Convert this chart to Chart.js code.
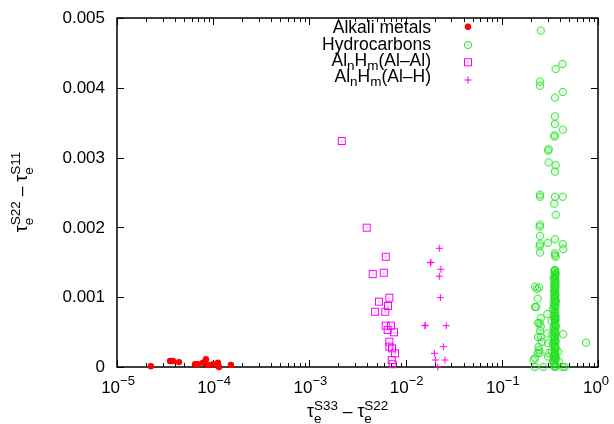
<!DOCTYPE html>
<html>
<head>
<meta charset="utf-8">
<script src="https://cdn.jsdelivr.net/npm/chart.js@4.4.1/dist/chart.umd.min.js"></script>
<style>
  body { margin: 0; background: #fff; }
  canvas { display: block; }
</style>
</head>
<body>
<canvas id="scatterChart" width="614" height="424"></canvas>
<script>
// Data
const alkaliX = [2.25e-5, 3.56e-5, 3.82e-5, 4.41e-5, 6.47e-5, 6.95e-5, 7.83e-5, 8.41e-5, 8.83e-5, 9.95e-5, 1.12e-4, 1.15e-4, 1.53e-4];
const alkaliY = [0.00001, 0.000086, 0.000086, 0.00007, 0.00004, 0.00004, 0.00006, 0.00011, 0.00003, 0.00004, 0.00006, 0.0, 0.00003];

const hydroX = [
  0.254, 0.426, 0.363, 0.25, 0.25, 0.43, 0.357, 0.357, 0.357, 0.43, 0.353, 0.353, 0.307, 0.303, 0.307, 0.363, 0.357,
  0.25, 0.25, 0.357, 0.43, 0.35, 0.363, 0.25, 0.247, 0.25, 0.357, 0.25, 0.247, 0.30, 0.43, 0.435, 0.25, 0.357, 0.357, 0.363,
  0.221, 0.244, 0.236, 0.228, 0.221, 0.254, 0.247, 0.238, 0.254, 0.238, 0.254, 0.26, 0.244, 0.236, 0.247, 0.221, 0.213,
  0.221, 0.27, 0.435, 0.75, 0.297, 0.297, 0.303, 0.307, 0.303, 0.384, 0.39, 0.357, 0.43, 0.45, 0.232, 0.25, 0.24,
  0.357, 0.352, 0.36, 0.357, 0.345, 0.36, 0.355, 0.35, 0.362, 0.357, 0.348, 0.36, 0.352, 0.357, 0.365, 0.345, 0.355,
  0.36, 0.34, 0.357, 0.35, 0.362, 0.355, 0.33, 0.357, 0.365, 0.345, 0.352, 0.36, 0.335, 0.357, 0.35, 0.362, 0.34,
  0.355, 0.36, 0.33, 0.357, 0.35, 0.365, 0.34, 0.355,
  0.355, 0.36, 0.352, 0.357, 0.362, 0.35, 0.357, 0.355, 0.36, 0.352, 0.357, 0.362, 0.35, 0.355, 0.36, 0.357,
  0.352, 0.362, 0.355, 0.357, 0.35, 0.36, 0.355, 0.362, 0.352, 0.357, 0.36, 0.35, 0.355, 0.362, 0.357, 0.352,
  0.36, 0.355, 0.357, 0.35, 0.362, 0.355, 0.345, 0.36, 0.352, 0.357
];
const hydroY = [
  0.00482, 0.00434, 0.00427, 0.00409, 0.00403, 0.00394, 0.00386, 0.00359, 0.00348, 0.0034, 0.00332, 0.0033, 0.00312, 0.0031, 0.00293, 0.00289, 0.0028,
  0.00247, 0.00244, 0.00244, 0.00244, 0.00234, 0.00218, 0.00204, 0.00201, 0.00188, 0.00183, 0.00176, 0.00173, 0.00178, 0.00176, 0.00169, 0.00164, 0.00163, 0.0016, 0.00158,
  0.00115, 0.00114, 0.00098, 0.00086, 0.00086, 0.0007, 0.00063, 0.00063, 0.00058, 0.00043, 0.00043, 0.00036, 0.00024, 0.0002, 0.0002, 0.000125, 0.0001,
  0.0, 0.0, 0.00047, 0.00035, 0.00076, 0.00048, 0.00034, 0.0002, 0.00015, 0.00022, 0.00008, 0.0, 0.0, 0.0, 0.00112, 0.00052, 0.00029,
  0.00139, 0.00137, 0.00133, 0.00131, 0.00127, 0.00124, 0.00122, 0.00118, 0.00115, 0.00111, 0.00109, 0.00105, 0.00102, 0.00099, 0.00095, 0.00092, 0.00088,
  0.00085, 0.00083, 0.00079, 0.00075, 0.00072, 0.00069, 0.00066, 0.00062, 0.00059, 0.00056, 0.00052, 0.00049, 0.00046, 0.00043, 0.00039, 0.00036, 0.00033,
  0.00029, 0.00026, 0.00022, 0.00019, 0.00015, 0.00012, 0.00008, 0.00004,
  0.00138, 0.00135, 0.00129, 0.00126, 0.0012, 0.00116, 0.00113, 0.00107, 0.00103, 0.00097, 0.00094, 0.0009, 0.00087, 0.00081, 0.00077, 0.00073,
  0.0007, 0.00067, 0.00064, 0.0006, 0.00057, 0.00054, 0.0005, 0.00047, 0.00044, 0.00041, 0.00038, 0.00035, 0.00031, 0.00028, 0.00024, 0.00021,
  0.00017, 0.00014, 0.0001, 0.00006, 0.00002, 0.0, 0.00011, 0.00132, 0.00101, 0.00068
];

const alAlX = [2.17e-3, 3.94e-3, 6.21e-3, 4.55e-3, 5.92e-3, 6.78e-3, 6.56e-3, 5.29e-3, 4.81e-3, 6.15e-3, 6.21e-3, 7.05e-3, 6.51e-3, 7.57e-3, 6.78e-3, 6.78e-3, 7.22e-3, 7.76e-3, 7.17e-3, 7.33e-3];
const alAlY = [0.003238, 0.001996, 0.00158, 0.001332, 0.001351, 0.000993, 0.000874, 0.000936, 0.000792, 0.000792, 0.000592, 0.000592, 0.00053, 0.000497, 0.000363, 0.000291, 0.000268, 0.000196, 0.0001, 0.00004];

const alHX = [2.24e-2, 1.82e-2, 1.83e-2, 2.33e-2, 2.24e-2, 2.30e-2, 1.59e-2, 1.60e-2, 2.65e-2, 2.47e-2, 1.99e-2, 2.57e-2, 2.04e-2, 2.16e-2];
const alHY = [0.0017, 0.001494, 0.001500, 0.0014, 0.0013, 0.000993, 0.000592, 0.000598, 0.000592, 0.000291, 0.000196, 0.0001, 0.0001, 0.0];

const xTickExp = [-5, -4, -3, -2, -1, 0];
const yTicks = [0, 0.001, 0.002, 0.003, 0.004, 0.005];
const yTickLabels = ["0", "0.001", "0.002", "0.003", "0.004", "0.005"];
const seriesNames = ["Alkali metals", "Hydrocarbons", "Al_n H_m (Al–Al)", "Al_n H_m (Al–H)"];

const FONT = '"Liberation Sans", Arial, sans-serif';
const RED = "#ff0000";
const GREEN = "#22e022";
const MAGENTA = "#ff00ff";
const BIG = 17.5, SMALL = 13.5;

function toPoints(xs, ys) {
  return xs.map((x, i) => ({ x: x, y: ys[i] }));
}

// marker images: open circle with centre dot, open square with centre dot
function circleDot(color) {
  const c = document.createElement("canvas");
  c.width = 10; c.height = 10;
  const g = c.getContext("2d");
  g.strokeStyle = color; g.lineWidth = 1;
  g.beginPath(); g.arc(5, 5, 3.6, 0, Math.PI * 2); g.stroke();
  g.fillStyle = color; g.fillRect(4.5, 4.5, 1, 1);
  return c;
}
function squareDot(color) {
  const c = document.createElement("canvas");
  c.width = 10; c.height = 10;
  const g = c.getContext("2d");
  g.strokeStyle = color; g.lineWidth = 1;
  g.strokeRect(1.5, 1.5, 7, 7);
  g.fillStyle = color; g.fillRect(4.5, 4.5, 1, 1);
  return c;
}
const circleImg = circleDot(GREEN);
const squareImg = squareDot(MAGENTA);

// text with sub/superscripts: parts = [text, size, dy, advance]
function drawRich(ctx, parts, x, y, align) {
  let w = 0;
  for (const p of parts) {
    ctx.font = p[1] + "px " + FONT;
    if (p[3] !== false) w += ctx.measureText(p[0]).width;
  }
  let cx = align === "right" ? x - w : align === "center" ? x - w / 2 : x;
  for (const p of parts) {
    ctx.font = p[1] + "px " + FONT;
    ctx.fillText(p[0], cx, y + p[2]);
    if (p[3] !== false) cx += ctx.measureText(p[0]).width;
  }
}

const frame = {
  id: "frame",
  beforeDatasetsDraw(chart) {
    const { ctx, chartArea: a, scales: { x, y } } = chart;
    ctx.save();
    ctx.strokeStyle = "#000";
    ctx.lineWidth = 1.5;
    ctx.strokeRect(a.left, a.top, a.right - a.left, a.bottom - a.top);
    ctx.lineWidth = 1;
    ctx.beginPath();
    // x ticks (log, with minors)
    xTickExp.forEach((e) => {
      const px = Math.round(x.getPixelForValue(Math.pow(10, e))) + 0.5;
      ctx.moveTo(px, a.bottom); ctx.lineTo(px, a.bottom - 7);
      ctx.moveTo(px, a.top); ctx.lineTo(px, a.top + 7);
      if (e < 0) {
        for (let m = 2; m <= 9; m++) {
          const mx = Math.round(x.getPixelForValue(m * Math.pow(10, e))) + 0.5;
          ctx.moveTo(mx, a.bottom); ctx.lineTo(mx, a.bottom - 4);
          ctx.moveTo(mx, a.top); ctx.lineTo(mx, a.top + 4);
        }
      }
    });
    // y ticks
    yTicks.forEach((v) => {
      const py = Math.round(y.getPixelForValue(v)) + 0.5;
      ctx.moveTo(a.left, py); ctx.lineTo(a.left + 7, py);
      ctx.moveTo(a.right, py); ctx.lineTo(a.right - 7, py);
    });
    ctx.stroke();

    // tick labels
    ctx.fillStyle = "#000";
    ctx.textBaseline = "middle";
    ctx.textAlign = "right";
    ctx.font = "17px " + FONT;
    yTicks.forEach((v, i) => {
      ctx.fillText(yTickLabels[i], 105, y.getPixelForValue(v) + 0.5);
    });
    ctx.textAlign = "left";
    ctx.textBaseline = "alphabetic";
    xTickExp.forEach((e) => {
      const px = x.getPixelForValue(Math.pow(10, e));
      const sup = e < 0 ? "\u2212" + (-e) : String(e);
      const shift = e === 0 ? -2 : 1;
      drawRich(ctx, [["10", 17, 0], [sup, 13, -8]], px + shift, 393, "center");
    });

    // axis titles
    drawRich(ctx, [["τ", BIG, 0], ["e", SMALL, 5.5, false], ["S33", SMALL, -7.5], [" – ", BIG, 0],
                   ["τ", BIG, 0], ["e", SMALL, 5.5, false], ["S22", SMALL, -7.5]], 307, 417, "left");
    ctx.save();
    ctx.translate(27, 192);
    ctx.rotate(-Math.PI / 2);
    drawRich(ctx, [["τ", BIG, 0], ["e", SMALL, 5.5, false], ["S22", SMALL, -7.5], [" – ", BIG, 0],
                   ["τ", BIG, 0], ["e", SMALL, 5.5, false], ["S11", SMALL, -7.5]], 0, 0, "center");
    ctx.restore();
    ctx.restore();
  },
  afterDatasetsDraw(chart) {
    const ctx = chart.ctx;
    ctx.save();
    ctx.fillStyle = "#000";
    ctx.textBaseline = "alphabetic";
    const tx = 431, sx = 468;
    drawRich(ctx, [[seriesNames[0], BIG, 0]], tx, 33, "right");
    drawRich(ctx, [[seriesNames[1], BIG, 0]], tx, 50, "right");
    drawRich(ctx, [["Al", BIG, 0], ["n", SMALL, 4], ["H", BIG, 0], ["m", SMALL, 4], ["(Al–Al)", BIG, 0]], tx, 65.5, "right");
    drawRich(ctx, [["Al", BIG, 0], ["n", SMALL, 4], ["H", BIG, 0], ["m", SMALL, 4], ["(Al–H)", BIG, 0]], tx, 82, "right");
    // symbols
    ctx.fillStyle = RED;
    ctx.beginPath(); ctx.arc(sx, 26.7, 3.2, 0, Math.PI * 2); ctx.fill();
    ctx.drawImage(circleImg, sx - 5, 45 - 5);
    ctx.drawImage(squareImg, sx - 5, 62.3 - 5);
    ctx.strokeStyle = MAGENTA; ctx.lineWidth = 1;
    ctx.beginPath();
    ctx.moveTo(sx - 3.5, 80); ctx.lineTo(sx + 3.5, 80);
    ctx.moveTo(sx, 76.5); ctx.lineTo(sx, 83.5);
    ctx.stroke();
    ctx.restore();
  },
};

const config = {
  type: "scatter",
  data: {
    datasets: [
      {
        label: seriesNames[0],
        data: toPoints(alkaliX, alkaliY),
        pointStyle: "circle",
        pointRadius: 3.2,
        backgroundColor: RED,
        borderWidth: 0,
        clip: false,
      },
      {
        label: seriesNames[1],
        data: toPoints(hydroX, hydroY),
        pointStyle: circleImg,
        clip: false,
      },
      {
        label: seriesNames[2],
        data: toPoints(alAlX, alAlY),
        pointStyle: squareImg,
        clip: false,
      },
      {
        label: seriesNames[3],
        data: toPoints(alHX, alHY),
        pointStyle: "cross",
        pointRadius: 3.5,
        borderColor: MAGENTA,
        borderWidth: 1,
        clip: false,
      },
    ],
  },
  options: {
    responsive: false,
    animation: false,
    layout: { padding: { left: 117, right: 16, top: 18, bottom: 57 } },
    plugins: { legend: { display: false }, tooltip: { enabled: false } },
    scales: {
      x: { type: "logarithmic", min: 1e-5, max: 1, display: false },
      y: { type: "linear", min: 0, max: 0.005, display: false },
    },
  },
  plugins: [frame],
};

const scatterChart = new Chart(document.getElementById("scatterChart"), config);
</script>
</body>
</html>
